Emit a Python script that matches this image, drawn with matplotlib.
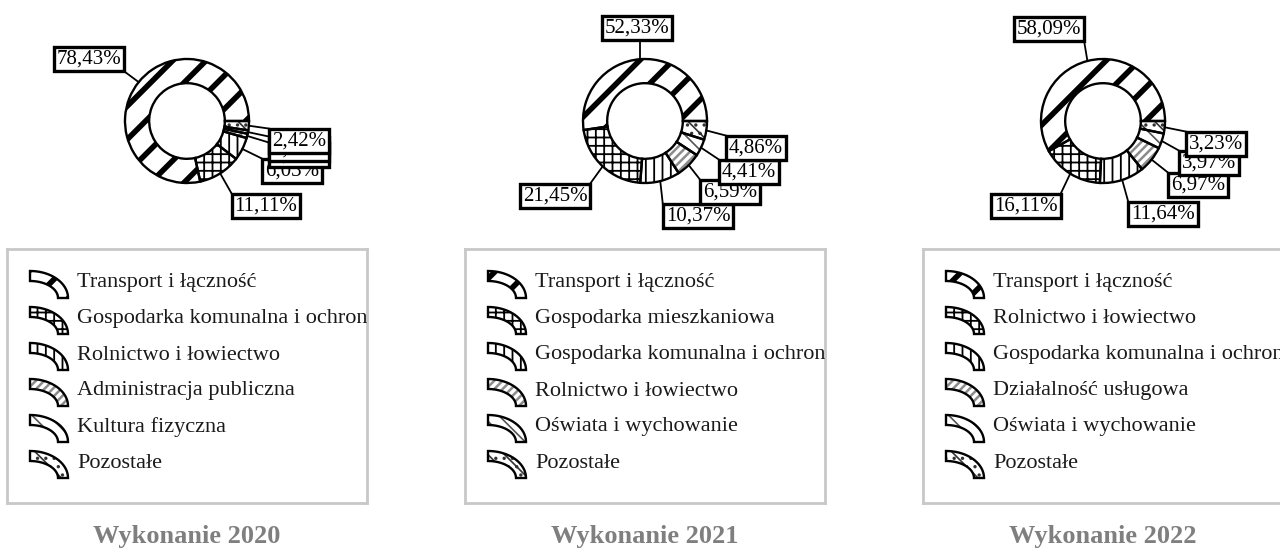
import numpy as np
import matplotlib
matplotlib.use('Agg')
from matplotlib import pyplot as plt
from matplotlib.patches import Polygon

plt.rcParams['font.family'] = ['Liberation Serif', 'DejaVu Serif']

# data
titles = ['Wykonanie 2020', 'Wykonanie 2021', 'Wykonanie 2022']

cats_2020 = ['Transport i łączność', 'Gospodarka komunalna i ochrona środowiska',
             'Rolnictwo i łowiectwo', 'Administracja publiczna',
             'Kultura fizyczna', 'Pozostałe']
vals_2020 = [78.43, 11.11, 6.03, 1.12, 0.89, 2.42]

cats_2021 = ['Transport i łączność', 'Gospodarka mieszkaniowa',
             'Gospodarka komunalna i ochrona środowiska', 'Rolnictwo i łowiectwo',
             'Oświata i wychowanie', 'Pozostałe']
vals_2021 = [52.33, 21.45, 10.37, 6.59, 4.41, 4.86]

cats_2022 = ['Transport i łączność', 'Rolnictwo i łowiectwo',
             'Gospodarka komunalna i ochrona środowiska', 'Działalność usługowa',
             'Oświata i wychowanie', 'Pozostałe']
vals_2022 = [58.09, 16.11, 11.64, 6.97, 3.97, 3.23]

# label box centres, pixel offsets from donut centre (layout only)
lab_off = [
    [(-98, -62), (79, 85), (105, 50), (112, 34), (112, 28), (112, 20)],
    [(-8, -93), (-90, 75), (53, 95), (85, 71), (104, 51), (111, 27)],
    [(-54, -92), (-77, 85), (60, 93), (95, 64), (106, 42), (113, 23)],
]

# styles per slice position
hatches = ['/', '++', '||', '////', '\\\\', '\\\\..']
hcolors = ['black', 'black', 'black', '#8c8c8c', '#555555', '#333333']
hwidths = [4.0, 1.3, 1.3, 1.8, 1.2, 1.2]

W, H = 1280, 554
R = 62.0
CY = 121
fig = plt.figure(figsize=(12.8, 5.54), dpi=100)


def set_hlw(p, lw):
    if hasattr(p, 'set_hatch_linewidth'):
        p.set_hatch_linewidth(lw)


all_labels = []
for i, (cats, vals) in enumerate([(cats_2020, vals_2020), (cats_2021, vals_2021), (cats_2022, vals_2022)]):
    cx = 187 + 458 * i

    # donut axes, 1 data unit = R pixels
    ax = fig.add_axes([(cx - 180) / W, (H - 245) / H, 360 / W, 245 / H])

    fills, _ = ax.pie(vals, radius=1, startangle=0, counterclock=True,
                      wedgeprops=dict(width=0.39, facecolor='white', linewidth=0))
    for k, w in enumerate(fills):
        w.set_hatch(hatches[k])
        w.set_edgecolor(hcolors[k])
        set_hlw(w, hwidths[k])
    outl, _ = ax.pie(vals, radius=1, startangle=0, counterclock=True,
                     wedgeprops=dict(width=0.39, facecolor='none', edgecolor='black', linewidth=1.7))
    ax.set_aspect('auto')
    ax.set_xlim(-180 / R, 180 / R)
    ax.set_ylim(-(245 - CY) / R, CY / R)
    ax.axis('off')

    for k, w in enumerate(outl):
        mid = np.deg2rad((w.theta1 + w.theta2) / 2)
        P = (np.cos(mid), np.sin(mid))
        ox, oy = lab_off[i][k]
        txt = f'{vals[k]:.2f}%'.replace('.', ',')
        t = ax.text(ox / R, -oy / R, txt, ha='center', va='center', fontsize=15,
                    zorder=5 + k,
                    bbox=dict(boxstyle='square,pad=0.14', fc='white', ec='black', lw=2.4))
        all_labels.append((ax, t, P))

    # legend box
    lx = 7 + 458 * i
    lax = fig.add_axes([lx / W, (H - 503) / H, 360 / W, 254 / H])
    lax.set_xlim(0, 360)
    lax.set_ylim(254, 0)
    lax.set_xticks([])
    lax.set_yticks([])
    for s in lax.spines.values():
        s.set_color('#c8c8c8')
        s.set_linewidth(2)
    for k, name in enumerate(cats):
        ry = 34 + 36 * k
        x0, y0 = 23, ry + 15
        t_out = np.linspace(np.pi / 2, 0, 30)
        t_in = t_out[::-1]
        pts = np.vstack([
            np.column_stack([x0 + 38 * np.cos(t_out), y0 - 27 * np.sin(t_out)]),
            np.column_stack([x0 + 28 * np.cos(t_in), y0 - 17 * np.sin(t_in)]),
        ])
        pf = Polygon(pts, closed=True, facecolor='white', edgecolor=hcolors[k],
                     linewidth=0, hatch=hatches[k])
        set_hlw(pf, hwidths[k])
        lax.add_patch(pf)
        lax.add_patch(Polygon(pts, closed=True, facecolor='none', edgecolor='black', linewidth=1.7))
        lax.text(70, ry, name, ha='left', va='center', fontsize=16, color='#1a1a1a', clip_on=True)

    fig.text(cx / W, 1 - 537 / H, titles[i], ha='center', va='center', fontsize=19,
             fontweight='bold', color='#7f7f7f')

# leader lines from slice to nearest point on the label box
fig.canvas.draw()
renderer = fig.canvas.get_renderer()
for ax, t, P in all_labels:
    bb = t.get_bbox_patch().get_window_extent(renderer)
    px, py = ax.transData.transform(P)
    qx = min(max(px, bb.x0), bb.x1)
    qy = min(max(py, bb.y0), bb.y1)
    q = ax.transData.inverted().transform((qx, qy))
    ax.plot([P[0], q[0]], [P[1], q[1]], color='black', lw=1.3, zorder=3)

fig.savefig('out.png', dpi=100)
